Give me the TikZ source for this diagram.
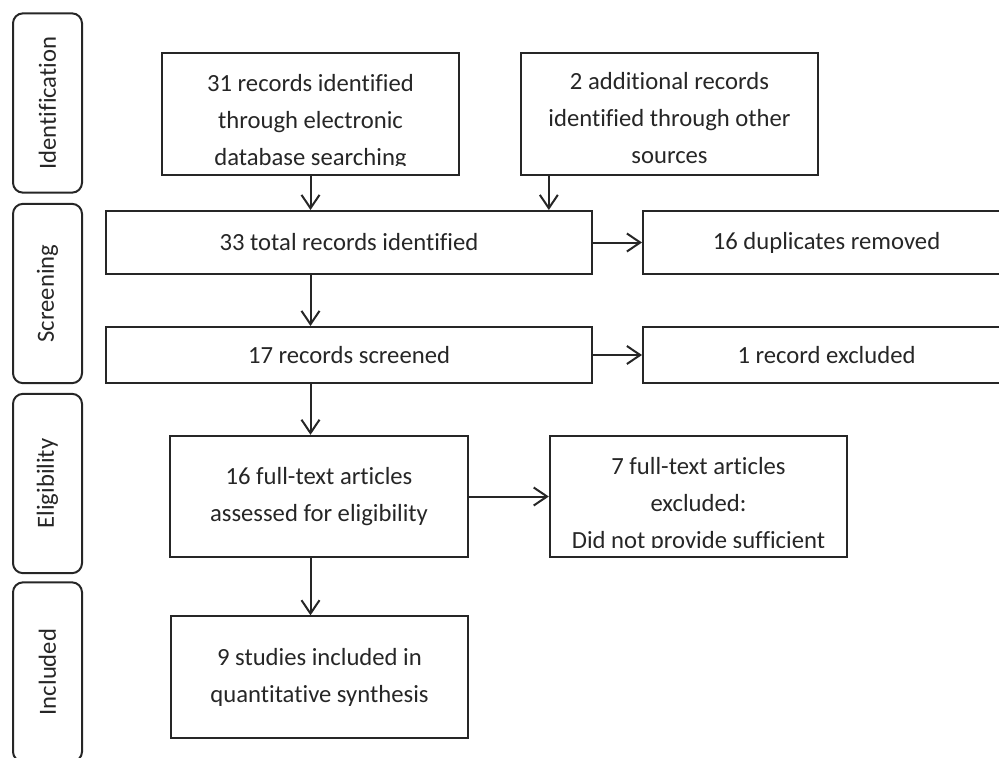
\documentclass[tikz,border=0pt]{standalone}
\usepackage{fontspec}
\setmainfont{Carlito}[Ligatures=NoCommon]
\usetikzlibrary{arrows.meta}
\definecolor{ink}{RGB}{38,38,38}
\begin{document}
\begin{tikzpicture}[x=0.75pt, y=-0.75pt, line width=1.5pt, color=ink,
    lbl/.style={font=\fontsize{18.5}{27.75}\selectfont, align=center, inner sep=0pt},
    box/.style={draw, rectangle, lbl, minimum width=223pt, minimum height=91pt},
    wide/.style={box, minimum width=364.5pt},
    side/.style={box, minimum width=275.25pt},
    stage/.style={draw, rounded corners=7.5pt, lbl, rotate=90, minimum width=134.5pt, minimum height=51.75pt},
    cut/.style 2 args={path picture={
        \clip ([yshift=7pt]path picture bounding box.south west) rectangle (path picture bounding box.north east);
        \node[lbl] at ([yshift=#1]path picture bounding box.center) {#2};}},
    >={Straight Barb[length=10pt,width=13.5pt]}]
  \clip (0,0) rectangle (999,757);
  % phases
  \node[stage] (s1) at (47.5,103) {Identification};
  \node[stage] (s2) at (47.5,293.5) {Screening};
  \node[stage] (s3) at (47.5,483.5) {Eligibility};
  \node[stage] (s4) at (47.5,672) {Included};
  % records
  \node[box, cut={-6pt}{31 records identified\\through electronic\\database searching}] (b1) at (310.5,114) {};
  \node[box, cut={-3pt}{2 additional records\\identified through other\\sources}] (b2) at (669.5,114) {};
  \node[wide, minimum height=47.25pt] (b3) at (349,242.5) {33 total records identified};
  \node[side, minimum height=47.25pt] (b4) at (826.5,242.5) {16 duplicates removed};
  \node[wide, minimum height=42pt] (b5) at (349,355) {17 records screened};
  \node[side, minimum height=42pt] (b6) at (826.5,355) {1 record excluded};
  \node[box] (b7) at (319,496.5) {16 full-text articles\\assessed for eligibility};
  \node[box, cut={-6pt}{7 full-text articles\\excluded:\\Did not provide sufficient}] (b8) at (698.5,496.5) {};
  \node[box] (b9) at (319.5,677) {9 studies included in\\quantitative synthesis};
  \coordinate (b2out) at ([xshift=21.75pt]b2.south west);
  \draw[->] (b1) -- (b1 |- b3.north);
  \draw[->] (b2out) -- (b2out |- b3.north);
  \foreach \source/\dest in {b3/b5, b5/b7, b7/b9}
    \draw[->] (\source.south -| b1) -- (\dest.north -| b1);
  \foreach \source/\dest in {b3/b4, b5/b6, b7/b8}
    \draw[->] (\source) -- (\dest);
\end{tikzpicture}
\end{document}
